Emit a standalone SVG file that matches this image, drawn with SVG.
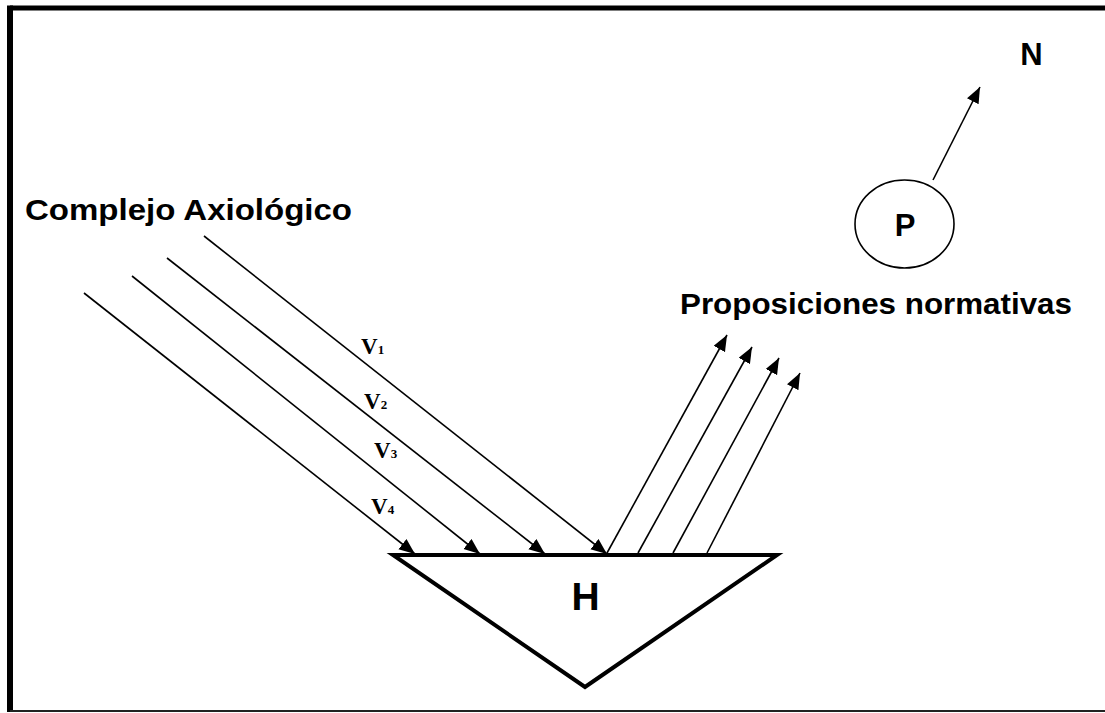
<svg xmlns="http://www.w3.org/2000/svg" width="1105" height="713" viewBox="0 0 1105 713">
<defs>
<marker id="ah" markerUnits="userSpaceOnUse" markerWidth="18" markerHeight="14" refX="16" refY="6.5" orient="auto">
<path d="M0,0 L16,6.5 L0,13 Z" fill="#000"/>
</marker>
</defs>
<style>
.ln{stroke:#000;stroke-width:1.6;fill:none}
.lbl{font-family:"Liberation Sans",Arial,sans-serif;font-weight:bold;fill:#000}
.v{font-family:"Liberation Serif","Times New Roman",serif;font-weight:bold;fill:#000}
</style>
<rect width="1105" height="713" fill="#fff"/>
<g id="frame">
<line x1="10" y1="8" x2="1105" y2="8" stroke="#000" stroke-width="5"/>
<line x1="10" y1="5.5" x2="10" y2="712" stroke="#000" stroke-width="6"/>
<line x1="10" y1="711" x2="1105" y2="711" stroke="#222" stroke-width="2"/>
</g>
<g id="connectors">
<line class="ln" x1="204" y1="236" x2="607" y2="554" marker-end="url(#ah)"/>
<line class="ln" x1="167" y1="258" x2="545" y2="554" marker-end="url(#ah)"/>
<line class="ln" x1="132" y1="276" x2="480" y2="554" marker-end="url(#ah)"/>
<line class="ln" x1="84" y1="293" x2="415" y2="554" marker-end="url(#ah)"/>
<line class="ln" x1="607" y1="553" x2="727" y2="335" marker-end="url(#ah)"/>
<line class="ln" x1="638" y1="553" x2="752" y2="347" marker-end="url(#ah)"/>
<line class="ln" x1="673" y1="553" x2="779" y2="358" marker-end="url(#ah)"/>
<line class="ln" x1="707" y1="553" x2="800" y2="373" marker-end="url(#ah)"/>
<line class="ln" x1="933" y1="180" x2="980" y2="87" marker-end="url(#ah)"/>
</g>
<g id="complejo">
<text class="lbl" x="25" y="220" font-size="30" textLength="327" lengthAdjust="spacingAndGlyphs">Complejo Axiológico</text>
</g>
<g id="valores">
<text class="v" x="361" y="354" font-size="23">V<tspan font-size="13">1</tspan></text>
<text class="v" x="364" y="409" font-size="23">V<tspan font-size="13">2</tspan></text>
<text class="v" x="374" y="458" font-size="23">V<tspan font-size="13">3</tspan></text>
<text class="v" x="371" y="514" font-size="23">V<tspan font-size="13">4</tspan></text>
</g>
<g id="H">
<polygon points="393,555 777,555 585,687" fill="#fff" stroke="#000" stroke-width="4" stroke-linejoin="miter"/>
<text class="lbl" x="585.5" y="610" font-size="39" text-anchor="middle">H</text>
</g>
<g id="proposiciones">
<text class="lbl" x="680" y="314" font-size="30" textLength="392" lengthAdjust="spacingAndGlyphs">Proposiciones normativas</text>
</g>
<g id="P">
<ellipse cx="904.5" cy="224" rx="49.5" ry="44" fill="#fff" stroke="#000" stroke-width="1.6"/>
<text class="lbl" x="905" y="236" font-size="31" text-anchor="middle">P</text>
</g>
<g id="N">
<text class="lbl" x="1031.5" y="65" font-size="31" text-anchor="middle">N</text>
</g>
</svg>
